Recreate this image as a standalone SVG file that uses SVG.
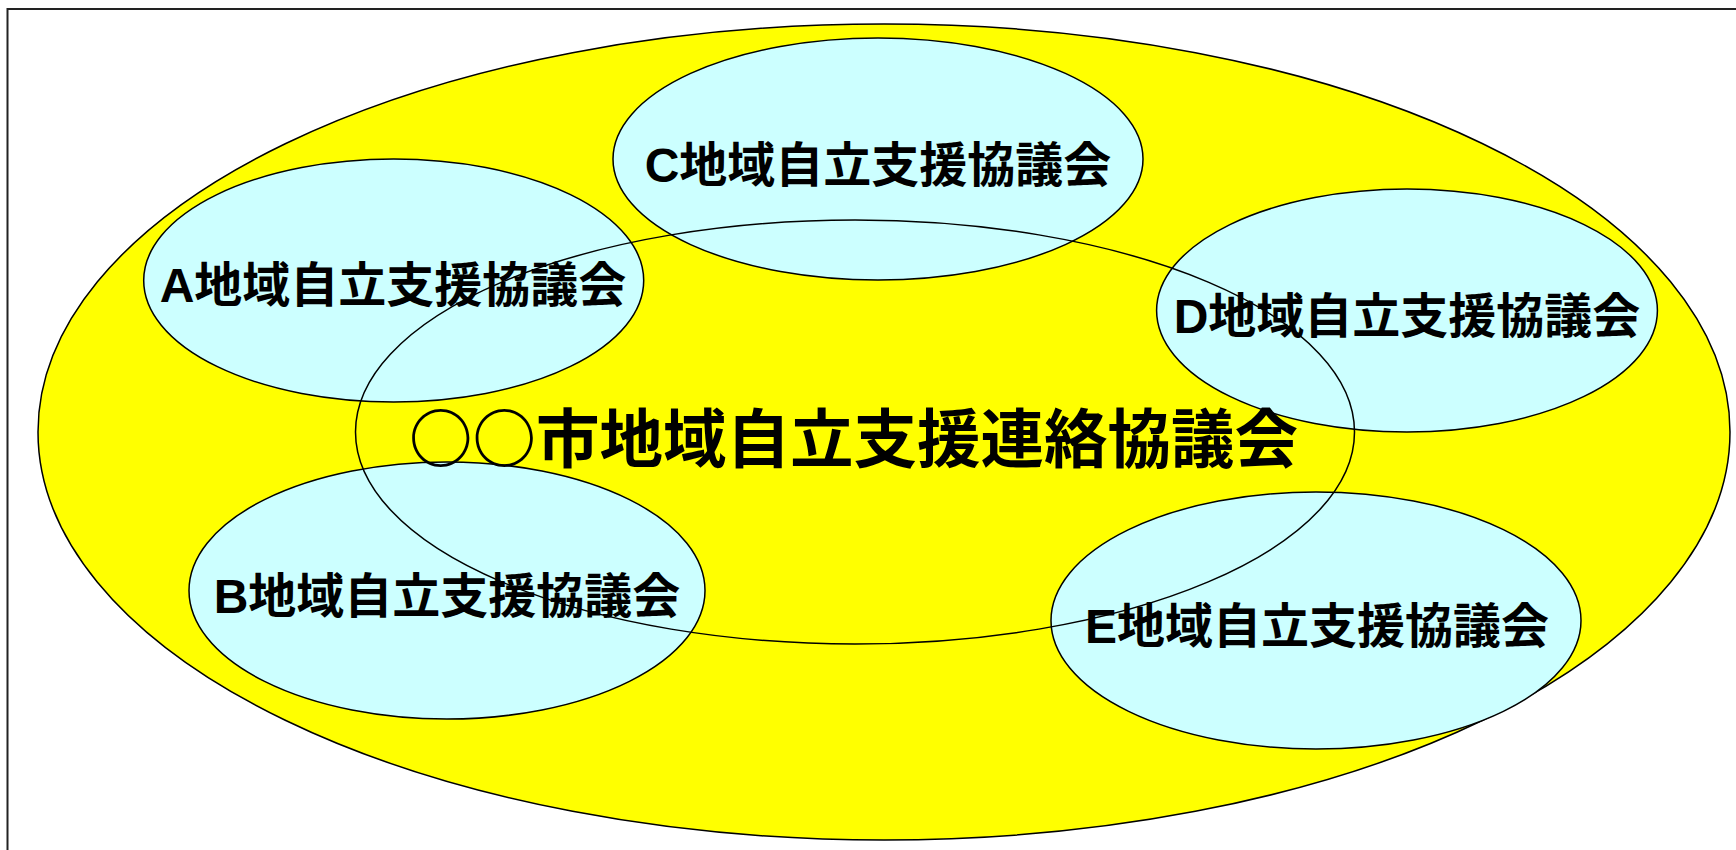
<svg xmlns="http://www.w3.org/2000/svg" width="1736" height="850" viewBox="0 0 1736 850">
<style>
.bg{fill:#ffffff}
.frame{fill:none;stroke:#222;stroke-width:2}
.outer{fill:#ffff00;stroke:#000;stroke-width:1.5}
.sub{fill:#ccffff;stroke:#000;stroke-width:1.5}
.ring{fill:none;stroke:#000;stroke-width:1.5}
.lbl{font-family:"Liberation Sans","Noto Sans CJK JP",sans-serif;font-weight:bold;fill:#000;text-anchor:middle}
.s{font-size:48px}
.m{font-family:"Noto Sans CJK JP",sans-serif;font-size:63.5px}
</style>
<rect class="bg" x="0" y="0" width="1736" height="850"/>
<rect class="frame" x="7.5" y="9" width="1760" height="880"/>
<g id="city-council">
<ellipse class="outer" cx="884" cy="432" rx="846" ry="408"/>
</g>
<g id="region-a">
<ellipse class="sub" cx="393.7" cy="280.5" rx="250" ry="121.5"/>
</g>
<g id="region-c">
<ellipse class="sub" cx="878" cy="159" rx="265" ry="121"/>
</g>
<g id="region-d">
<ellipse class="sub" cx="1407" cy="310.5" rx="250.4" ry="121.5"/>
</g>
<g id="region-b">
<ellipse class="sub" cx="447" cy="590.5" rx="258" ry="128.5"/>
</g>
<g id="region-e">
<ellipse class="sub" cx="1316" cy="620.5" rx="265" ry="128.5"/>
</g>
<g id="liaison-ring">
<ellipse class="ring" cx="855" cy="432" rx="499.5" ry="212"/>
</g>
<g id="labels">
<text class="lbl s" x="393" y="302">A地域自立支援協議会</text>
<text class="lbl s" x="878" y="182">C地域自立支援協議会</text>
<text class="lbl s" x="1407" y="332.5">D地域自立支援協議会</text>
<text class="lbl s" x="447" y="613">B地域自立支援協議会</text>
<text class="lbl s" x="1317" y="643">E地域自立支援協議会</text>
<text class="lbl m" x="853.6" y="462">○○市地域自立支援連絡協議会</text>
</g>
</svg>
